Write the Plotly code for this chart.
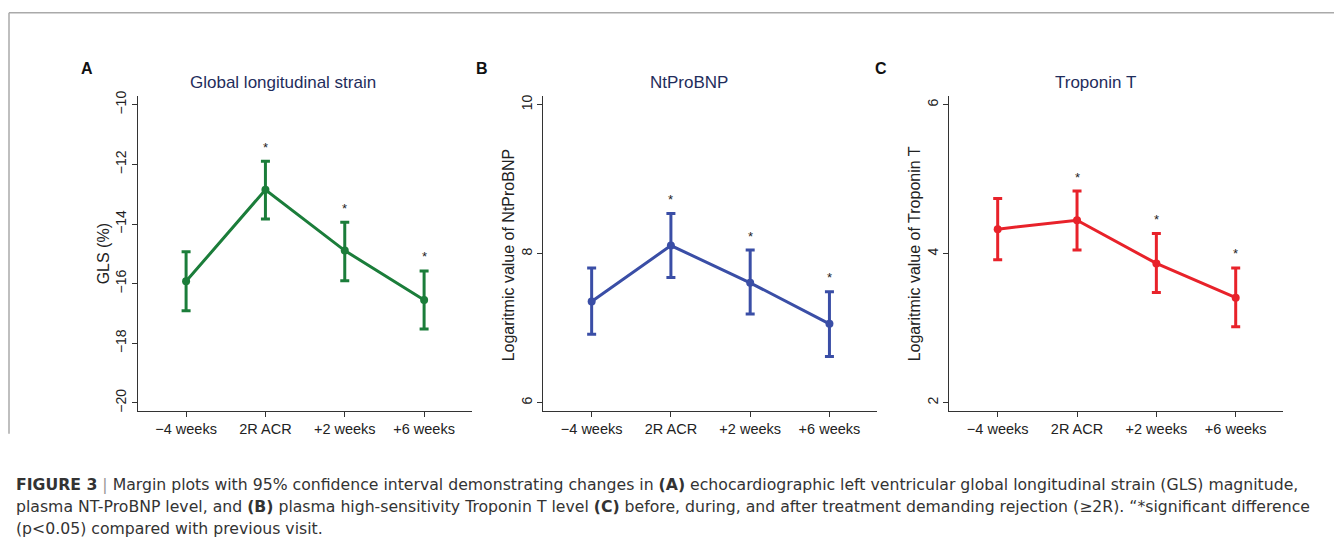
import plotly.graph_objects as go

# page offset compensation (browser body margin)
DX, DY = 8, 12
W, H = 1342 - DX, 550 - DY

categories = ["\u22124 weeks", "2R ACR", "+2 weeks", "+6 weeks"]

gls_mean = [-15.92, -12.85, -14.89, -16.55]
gls_low = [-16.91, -13.83, -15.90, -17.52]
gls_high = [-14.93, -11.89, -13.94, -15.57]

bnp_mean = [7.36, 8.11, 7.61, 7.06]
bnp_low = [6.92, 7.68, 7.19, 6.62]
bnp_high = [7.81, 8.54, 8.05, 7.49]

tnt_mean = [4.33, 4.45, 3.87, 3.41]
tnt_low = [3.92, 4.05, 3.48, 3.02]
tnt_high = [4.74, 4.84, 4.27, 3.81]

significant = [False, True, True, True]

gls_ticks = [-20, -18, -16, -14, -12, -10]
bnp_ticks = [6, 8, 10]
tnt_ticks = [2, 4, 6]


def PX(x):
    return (x - DX) / W


def PY(y):
    return 1 - (y - DY) / H


panels = [
    dict(letter="A", title="Global longitudinal strain", ytitle="GLS (%)",
         mean=gls_mean, low=gls_low, high=gls_high, ticks=gls_ticks,
         yrange=[-20.27, -9.72], color="#1b7d3a",
         px=(137.7, 471.7), title_x=282.5, ytitle_x=103, letter_x=87),
    dict(letter="B", title="NtProBNP", ytitle="Logaritmic value of NtProBNP",
         mean=bnp_mean, low=bnp_low, high=bnp_high, ticks=bnp_ticks,
         yrange=[5.89, 10.11], color="#3a4ea6",
         px=(543.3, 877.0), title_x=689, ytitle_x=508, letter_x=482),
    dict(letter="C", title="Troponin T", ytitle="Logaritmic value of Troponin T",
         mean=tnt_mean, low=tnt_low, high=tnt_high, ticks=tnt_ticks,
         yrange=[1.89, 6.11], color="#e8222a",
         px=(949.3, 1283.3), title_x=1095, ytitle_x=914, letter_x=881),
]

FONT = "Liberation Sans, Arial, Helvetica, sans-serif"
CAP_FONT = "DejaVu Sans, Liberation Sans, Arial, sans-serif"
top_px, bot_px = 95.7, 415.0

fig = go.Figure()
annotations = []
layout = dict(
    width=W, height=H, margin=dict(l=0, r=0, t=0, b=0),
    paper_bgcolor="white", plot_bgcolor="white", showlegend=False,
    font=dict(family=FONT, color="#222"),
)

for i, p in enumerate(panels):
    n = "" if i == 0 else str(i + 1)
    xa, ya = "x" + n, "y" + n
    up = [h - m for h, m in zip(p["high"], p["mean"])]
    dn = [m - l for m, l in zip(p["mean"], p["low"])]
    fig.add_trace(go.Scatter(
        x=categories, y=p["mean"], xaxis=xa, yaxis=ya,
        mode="lines+markers",
        line=dict(color=p["color"], width=3),
        marker=dict(color=p["color"], size=8),
        error_y=dict(type="data", symmetric=False, array=up, arrayminus=dn,
                     color=p["color"], thickness=3, width=4.5),
        hoverinfo="skip",
    ))
    layout["xaxis" + n] = dict(
        domain=[PX(p["px"][0]), PX(p["px"][1])], anchor=ya,
        type="category", categoryorder="array", categoryarray=categories,
        range=[-0.61, 3.6], showline=True, linecolor="#333", linewidth=1,
        ticks="outside", ticklen=5, tickcolor="#333", showgrid=False,
        zeroline=False, tickfont=dict(size=14.5, color="#222", family=FONT),
    )
    layout["yaxis" + n] = dict(
        domain=[PY(bot_px), PY(top_px)], anchor=xa,
        range=p["yrange"], tickvals=p["ticks"], showline=True,
        linecolor="#333", linewidth=1, ticks="outside", ticklen=5,
        tickcolor="#333", showgrid=False, zeroline=False, tickangle=-90,
        tickfont=dict(size=14, color="#222", family=FONT),
    )
    # significance stars
    for c, h, s in zip(categories, p["high"], significant):
        if s:
            annotations.append(dict(
                x=c, y=h, xref=xa, yref=ya, text="*", showarrow=False,
                yanchor="middle", yshift=14, font=dict(size=13, color="#222")))
    # title
    annotations.append(dict(
        x=PX(p["title_x"]), y=PY(82), xref="paper", yref="paper",
        text=p["title"], showarrow=False, xanchor="center", yanchor="middle",
        font=dict(size=17, color="#1f2d5c", family=FONT)))
    # y axis title
    annotations.append(dict(
        x=PX(p["ytitle_x"]), y=PY(256), xref="paper", yref="paper",
        text=p["ytitle"], showarrow=False, textangle=-90,
        xanchor="center", yanchor="middle",
        font=dict(size=16, color="#222", family=FONT)))
    # panel letter
    annotations.append(dict(
        x=PX(p["letter_x"]), y=PY(67), xref="paper", yref="paper",
        text="<b>" + p["letter"] + "</b>", showarrow=False,
        xanchor="center", yanchor="middle",
        font=dict(size=16, color="#111", family=FONT)))

caption_lines = [
    "<b>FIGURE 3</b> <span style='color:#999'>|</span> Margin plots with 95% confidence interval demonstrating changes in <b>(A)</b> echocardiographic left ventricular global longitudinal strain (GLS) magnitude,",
    "plasma NT-ProBNP level, and <b>(B)</b> plasma high-sensitivity Troponin T level <b>(C)</b> before, during, and after treatment demanding rejection (\u22652R). \u201c*significant difference",
    "(p&lt;0.05) compared with previous visit.",
]
caption_y = [490, 512, 534]
for line, yy in zip(caption_lines, caption_y):
    annotations.append(dict(
        x=PX(14), y=PY(yy), xref="paper", yref="paper", text=line,
        showarrow=False, xanchor="left", yanchor="middle", align="left",
        font=dict(size=15.7, color="#333", family=CAP_FONT)))

layout["annotations"] = annotations
layout["shapes"] = [
    dict(type="line", xref="paper", yref="paper", x0=PX(9), x1=1,
         y0=PY(10.7), y1=PY(10.7), line=dict(color="#aaa", width=1.5)),
    dict(type="line", xref="paper", yref="paper", x0=PX(9), x1=PX(9),
         y0=PY(10.7), y1=PY(438), line=dict(color="#aaa", width=1.5)),
]
fig.update_layout(**layout)
fig.write_html("out.html")
